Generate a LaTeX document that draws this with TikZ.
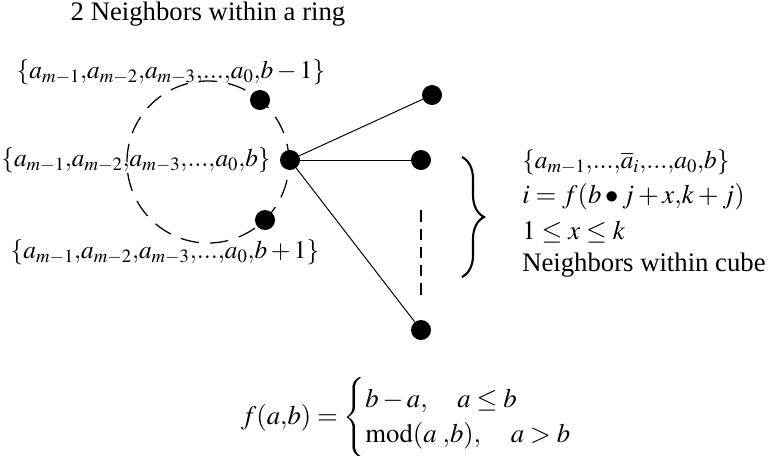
\documentclass[tikz,border=0pt]{standalone}
\usepackage{amsmath}
\usepackage{mathptmx}
\usepackage{fontspec}
\setmainfont{Liberation Serif}
\usetikzlibrary{decorations.pathreplacing}

\newcommand{\tdots}{{.}{.}{.}}

\begin{document}
\begin{tikzpicture}[x=0.025cm, y=-0.025cm,
  dot/.style={circle, fill=black, inner sep=0pt, minimum size=0.5cm},
  lbl/.style={inner sep=0pt, font=\fontsize{19}{23}\selectfont},
  mlbl/.style={inner sep=0pt, font=\fontsize{18}{22}\selectfont},
  ring/.style={dash pattern=on 13pt off 8pt, line width=0.9pt},
  link/.style={line width=0.7pt}
]
\useasboundingbox (0,0) rectangle (773,455);
\node[lbl, anchor=base] (title) at (208,20) {2 Neighbors within a ring};
\draw[ring] (208,162) circle [radius=2.025cm];
\node[mlbl] (prev) at (171,72) {$\{a_{m-1}{,}a_{m-2}{,}a_{m-3}{,}\tdots{,}a_0{,}b-1\}$};
\node[mlbl] (self) at (136,160) {$\{a_{m-1}{,}a_{m-2}{,}a_{m-3}{,}\tdots{,}a_0{,}b\}$};
\node[mlbl] (next) at (165,252) {$\{a_{m-1}{,}a_{m-2}{,}a_{m-3}{,}\tdots{,}a_0{,}b+1\}$};
% ring nodes
\node[dot] (up) at (260,100) {};
\node[dot] (c) at (290,160) {};
\node[dot] (down) at (265,220) {};
% cube nodes
\node[dot] (n1) at (432,95) {};
\node[dot] (n2) at (421,160) {};
\node[dot] (nk) at (421,330) {};
\draw[link] (c) -- (n1);
\draw[link] (c) -- (n2);
\draw[link] (c) -- (nk);
\draw[dash pattern=on 8pt off 5pt, line width=0.9pt] ([yshift=-1cm]n2.south) -- ([yshift=0.625cm]nk.north);
\draw[decorate, decoration={brace, amplitude=0.55cm}, line width=1.5pt] (462,157) -- (462,277);
\node[mlbl, anchor=west] (set) at (522,162) {$\{a_{m-1}{,}\tdots{,}\overline{a}_i{,}\tdots{,}a_0{,}b\}$};
\node[lbl, anchor=west] (idx) at (522,197) {$i=f(b\bullet j+x{,}k+j)$};
\node[lbl, anchor=west] (rng) at (522,232) {$1\le x\le k$};
\node[lbl, anchor=west] (cube) at (522,265) {Neighbors within cube};
\node[lbl] (fab) at (410,418) {\renewcommand{\arraystretch}{1.1}$f(a{,}b)=\left\{\begin{array}{@{}l}b-a,\quad a\le b\\ \mathrm{mod}(a\;{,}b),\quad a>b\end{array}\right.$};
\end{tikzpicture}
\end{document}
